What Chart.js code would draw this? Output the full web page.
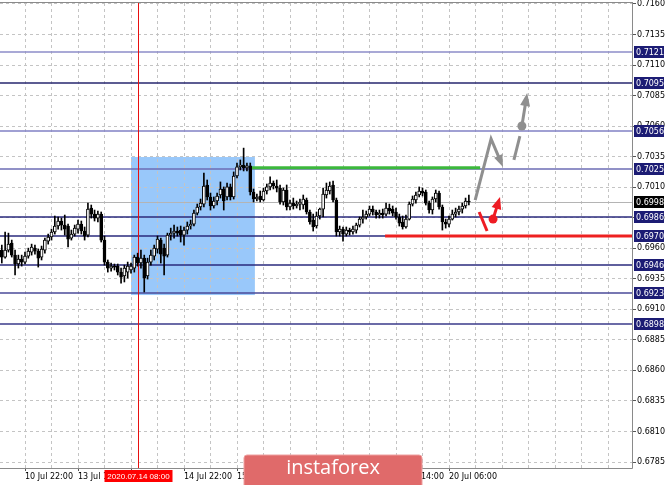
<!DOCTYPE html>
<html><head><meta charset="utf-8">
<script src="https://cdn.jsdelivr.net/npm/chart.js@4.4.1/dist/chart.umd.min.js"></script>
<style>html,body{margin:0;padding:0;background:#fff;overflow:hidden}canvas{display:block}</style>
</head><body>
<canvas id="c" width="665" height="485"></canvas>
<script>
// H1 candles, index = hours counted from 10 Jul 06:00 (weekend skipped); first visible candle index:
const firstIndex = 9;
const opens = [
0.69585,0.69528,0.69585,0.69642,0.69544,0.69471,0.69511,0.69487,0.69536,0.69569,
0.69601,0.69577,0.69528,0.69585,0.69659,0.69692,0.69733,0.69782,0.69823,0.69790,
0.69782,0.69683,0.69716,0.69757,0.69798,0.69741,0.69708,0.69929,0.69880,0.69847,
0.69880,0.69667,0.69487,0.69438,0.69454,0.69454,0.69405,0.69373,0.69405,0.69422,
0.69438,0.69528,0.69479,0.69519,0.69373,0.69487,0.69536,0.69593,0.69667,0.69601,
0.69544,0.69708,0.69724,0.69741,0.69749,0.69708,0.69749,0.69782,0.69798,0.69888,
0.69938,0.69962,0.70118,0.70020,0.69946,0.69987,0.70036,0.70085,0.70020,0.70102,
0.70020,0.70192,0.70266,0.70282,0.70257,0.70274,0.70061,0.70003,0.70028,0.69995,
0.70069,0.70102,0.70134,0.70110,0.70093,0.69979,0.70077,0.69938,0.69970,0.69946,
0.69962,0.69954,0.69995,0.69897,0.69831,0.69782,0.69864,0.69921,0.70036,0.70069,
0.70118,0.69995,0.69733,0.69757,0.69716,0.69749,0.69733,0.69749,0.69790,0.69839,
0.69856,0.69880,0.69921,0.69897,0.69872,0.69888,0.69880,0.69929,0.69921,0.69897,
0.69856,0.69815,0.69774,0.69839,0.69962,0.69995,0.70036,0.70069,0.70061,0.69970,
0.69913,0.70003,0.70052,0.69938,0.69815,0.69798,0.69839,0.69880,0.69897,0.69921,
0.69946,0.69987];
const highs = [
0.69626,0.69733,0.69724,0.69667,0.69585,0.69544,0.69544,0.69569,0.69601,0.69634,
0.69626,0.69593,0.69618,0.69683,0.69716,0.69757,0.69864,0.69856,0.69847,0.69872,
0.69798,0.69749,0.69790,0.69831,0.69823,0.69774,0.69970,0.69954,0.69913,0.69905,
0.69897,0.69700,0.69504,0.69479,0.69471,0.69471,0.69438,0.69462,0.69487,0.69479,
0.69544,0.69560,0.69585,0.69544,0.69519,0.69585,0.69626,0.69700,0.69683,0.69634,
0.69724,0.69765,0.69790,0.69774,0.69782,0.69774,0.69815,0.69831,0.69913,0.69962,
0.70003,0.70216,0.70159,0.70052,0.70020,0.70052,0.70143,0.70102,0.70134,0.70126,
0.70225,0.70298,0.70323,0.70420,0.70298,0.70298,0.70085,0.70044,0.70069,0.70093,
0.70126,0.70184,0.70151,0.70159,0.70118,0.70093,0.70118,0.69995,0.70011,0.69987,
0.70003,0.70036,0.70011,0.69913,0.69880,0.69897,0.69929,0.70093,0.70134,0.70143,
0.70151,0.70011,0.69782,0.69774,0.69774,0.69765,0.69782,0.69806,0.69856,0.69913,
0.69905,0.69946,0.69946,0.69913,0.69913,0.69921,0.69970,0.69962,0.69946,0.69929,
0.69880,0.69864,0.69872,0.69979,0.70028,0.70061,0.70102,0.70093,0.70077,0.69987,
0.70020,0.70077,0.70069,0.69954,0.69839,0.69864,0.69913,0.69929,0.69946,0.69970,
0.70011,0.70036];
const lows = [
0.69479,0.69519,0.69569,0.69528,0.69381,0.69438,0.69454,0.69471,0.69519,0.69544,
0.69552,0.69446,0.69504,0.69560,0.69634,0.69667,0.69716,0.69757,0.69749,0.69708,
0.69610,0.69667,0.69700,0.69724,0.69716,0.69667,0.69692,0.69847,0.69823,0.69815,
0.69651,0.69462,0.69405,0.69413,0.69422,0.69381,0.69315,0.69324,0.69356,0.69397,
0.69405,0.69454,0.69438,0.69242,0.69348,0.69462,0.69504,0.69560,0.69479,0.69381,
0.69528,0.69667,0.69683,0.69700,0.69651,0.69626,0.69716,0.69757,0.69782,0.69872,
0.69913,0.69938,0.69995,0.69913,0.69929,0.69954,0.70011,0.69913,0.69995,0.69995,
0.70003,0.70175,0.70241,0.70233,0.70233,0.70036,0.69979,0.69987,0.69979,0.69987,
0.70044,0.70077,0.70085,0.70061,0.69962,0.69954,0.69913,0.69913,0.69921,0.69929,
0.69913,0.69921,0.69880,0.69798,0.69741,0.69765,0.69839,0.69856,0.70011,0.70044,
0.69979,0.69700,0.69700,0.69659,0.69700,0.69708,0.69716,0.69724,0.69774,0.69806,
0.69839,0.69864,0.69872,0.69847,0.69847,0.69847,0.69864,0.69880,0.69864,0.69839,
0.69782,0.69757,0.69765,0.69831,0.69946,0.69970,0.70020,0.70028,0.69954,0.69888,
0.69880,0.69979,0.69921,0.69749,0.69765,0.69774,0.69831,0.69856,0.69872,0.69888,
0.69929,0.69954];
const closes = [
0.69528,0.69585,0.69634,0.69544,0.69471,0.69511,0.69487,0.69536,0.69577,0.69610,
0.69577,0.69519,0.69593,0.69667,0.69692,0.69733,0.69782,0.69823,0.69790,0.69757,
0.69675,0.69716,0.69765,0.69798,0.69741,0.69700,0.69921,0.69880,0.69847,0.69880,
0.69667,0.69487,0.69438,0.69454,0.69446,0.69405,0.69364,0.69438,0.69454,0.69454,
0.69528,0.69479,0.69519,0.69356,0.69487,0.69544,0.69601,0.69675,0.69552,0.69536,
0.69708,0.69724,0.69741,0.69724,0.69708,0.69749,0.69782,0.69798,0.69888,0.69938,
0.69970,0.70110,0.70020,0.69946,0.69987,0.70028,0.70085,0.69987,0.70102,0.70020,
0.70192,0.70266,0.70282,0.70257,0.70274,0.70061,0.70003,0.70020,0.69995,0.70069,
0.70102,0.70134,0.70110,0.70093,0.69979,0.70077,0.69938,0.69970,0.69946,0.69962,
0.69979,0.70003,0.69897,0.69815,0.69774,0.69864,0.69921,0.70044,0.70077,0.70110,
0.69995,0.69733,0.69757,0.69716,0.69749,0.69733,0.69757,0.69790,0.69839,0.69856,
0.69880,0.69921,0.69897,0.69872,0.69888,0.69872,0.69929,0.69905,0.69888,0.69856,
0.69806,0.69774,0.69839,0.69962,0.70003,0.70036,0.70069,0.70052,0.69970,0.69913,
0.70003,0.70052,0.69938,0.69815,0.69798,0.69839,0.69880,0.69897,0.69921,0.69946,
0.69987,0.69980];

const yTickValues = [0.7160,0.7135,0.7110,0.7085,0.7060,0.7035,0.7010,0.6985,0.6960,0.6935,0.6910,0.6885,0.6860,0.6835,0.6810,0.6785];
const xTickIndex  = [16,32,48,64,80,96,112,128,144];
const xTickLabels = ["10 Jul 22:00","13 Jul 14:00","14 Jul 06:00","14 Jul 22:00","15 Jul 14:00","16 Jul 06:00","16 Jul 22:00","17 Jul 14:00","20 Jul 06:00"];
const levelPrices = [0.7121,0.7095,0.7056,0.7025,0.6986,0.6970,0.6946,0.6923,0.6898];
const levelColors = ["#8c8cc8","#26266e","#8080c4","#6c6cb4","#2a2a7c","#2a2a7c","#2a2a7c","#4a4a98","#3a3a8a"];
const currentPrice = 0.6998;
const zoneIndex = [48.0, 85.4];
const zonePrices = [0.70347, 0.69217];
const greenLine = {from: 83.9, to: 153.4, price: 0.7026};
const redLine = {from: 124.7, price: 0.6970};
const markerIndex = 50;
const markerLabel = "2020.07.14 08:00";
const grayPath = [[151.9,0.69995],[156.7,0.70495],[160.3,0.70266]];
const grayDash = [[163.6,0.70323],[165.4,0.70519]];
const grayDot = [166.0,0.70601], grayTip = [167.6,0.70871];
const redDash = [[153.1,0.69897],[155.5,0.69741]];
const redDot = [157.3,0.69839], redTip = [159.4,0.70020];

const pxPerCandle = 3.3125;
const xMin = 28/pxPerCandle, xMax = xMin + 632/pxPerCandle;
const yMin = 0.67801, yMax = 0.71608;
const gridIdx = []; for (let v = 16; v <= 196; v += 8) gridIdx.push(v);

const xs = closes.map((_, i) => firstIndex + i);

function arrowHead(ctx, x0, y0, x1, y1, len, half, color) {
  const a = Math.atan2(y1 - y0, x1 - x0);
  ctx.fillStyle = color;
  ctx.beginPath();
  ctx.moveTo(x1, y1);
  ctx.lineTo(x1 - len*Math.cos(a) + half*Math.sin(a), y1 - len*Math.sin(a) - half*Math.cos(a));
  ctx.lineTo(x1 - len*Math.cos(a) - half*Math.sin(a), y1 - len*Math.sin(a) + half*Math.cos(a));
  ctx.closePath(); ctx.fill();
}
function shaft(ctx, x0, y0, x1, y1, len) {
  const a = Math.atan2(y1 - y0, x1 - x0);
  ctx.beginPath(); ctx.moveTo(x0, y0); ctx.lineTo(x1 - len*0.8*Math.cos(a), y1 - len*0.8*Math.sin(a)); ctx.stroke();
}

const overlay = {
  id: 'overlay',
  beforeDraw(chart) {
    const {ctx} = chart; const X = chart.scales.x, Y = chart.scales.y;
    ctx.save();
    ctx.fillStyle = '#fff'; ctx.fillRect(0, 0, chart.width, chart.height);
    const x0 = X.getPixelForValue(zoneIndex[0]), x1 = X.getPixelForValue(zoneIndex[1]);
    const y0 = Y.getPixelForValue(zonePrices[0]), y1 = Y.getPixelForValue(zonePrices[1]);
    ctx.fillStyle = '#99c8fa'; ctx.fillRect(x0, y0, x1 - x0, y1 - y0);
    ctx.restore();
  },
  beforeDatasetsDraw(chart) {
    const {ctx, chartArea: a} = chart; const X = chart.scales.x, Y = chart.scales.y;
    ctx.save();
    let y = Math.round(Y.getPixelForValue(currentPrice)) + 0.5;
    ctx.strokeStyle = '#b4b4b4'; ctx.lineWidth = 1;
    ctx.beginPath(); ctx.moveTo(a.left, y); ctx.lineTo(a.right, y); ctx.stroke();
    levelPrices.forEach((p, i) => {
      const yy = Math.round(Y.getPixelForValue(p));
      ctx.strokeStyle = levelColors[i]; ctx.lineWidth = 1.5;
      ctx.beginPath(); ctx.moveTo(a.left, yy); ctx.lineTo(a.right, yy); ctx.stroke();
    });
    const mx = Math.round(X.getPixelForValue(markerIndex)) + 0.5;
    ctx.strokeStyle = '#e81010'; ctx.lineWidth = 1;
    ctx.beginPath(); ctx.moveTo(mx, a.top); ctx.lineTo(mx, a.bottom); ctx.stroke();
    y = Y.getPixelForValue(greenLine.price);
    ctx.strokeStyle = '#3cb83c'; ctx.lineWidth = 3;
    ctx.beginPath(); ctx.moveTo(X.getPixelForValue(greenLine.from), y); ctx.lineTo(X.getPixelForValue(greenLine.to), y); ctx.stroke();
    y = Math.round(Y.getPixelForValue(redLine.price));
    ctx.strokeStyle = '#ee2020'; ctx.lineWidth = 3;
    ctx.beginPath(); ctx.moveTo(X.getPixelForValue(redLine.from), y); ctx.lineTo(a.right, y); ctx.stroke();
    ctx.restore();
  },
  afterDatasetsDraw(chart) {
    const {ctx} = chart; const X = chart.scales.x, Y = chart.scales.y;
    const P = q => [X.getPixelForValue(q[0]), Y.getPixelForValue(q[1])];
    ctx.save();
    ctx.lineCap = 'butt'; ctx.lineJoin = 'miter';
    const g = grayPath.map(P);
    ctx.strokeStyle = '#8f8f8f'; ctx.lineWidth = 3;
    ctx.beginPath(); ctx.moveTo(g[0][0], g[0][1]); ctx.lineTo(g[1][0], g[1][1]);
    const a2 = Math.atan2(g[2][1]-g[1][1], g[2][0]-g[1][0]);
    ctx.lineTo(g[2][0] - 8*Math.cos(a2), g[2][1] - 8*Math.sin(a2)); ctx.stroke();
    arrowHead(ctx, g[1][0], g[1][1], g[2][0], g[2][1], 12, 4.5, '#8f8f8f');
    const d = grayDash.map(P);
    ctx.beginPath(); ctx.moveTo(d[0][0], d[0][1]); ctx.lineTo(d[1][0], d[1][1]); ctx.stroke();
    const gd = P(grayDot), gt = P(grayTip);
    ctx.fillStyle = '#8f8f8f';
    ctx.beginPath(); ctx.arc(gd[0], gd[1], 4.5, 0, Math.PI*2); ctx.fill();
    shaft(ctx, gd[0], gd[1], gt[0], gt[1], 12);
    arrowHead(ctx, gd[0], gd[1], gt[0], gt[1], 13, 5, '#8f8f8f');
    const r = redDash.map(P);
    ctx.strokeStyle = '#ee1c24'; ctx.lineWidth = 3;
    ctx.beginPath(); ctx.moveTo(r[0][0], r[0][1]); ctx.lineTo(r[1][0], r[1][1]); ctx.stroke();
    const rd = P(redDot), rt = P(redTip);
    ctx.fillStyle = '#ee1c24';
    ctx.beginPath(); ctx.arc(rd[0], rd[1], 4.5, 0, Math.PI*2); ctx.fill();
    shaft(ctx, rd[0], rd[1], rt[0], rt[1], 11);
    arrowHead(ctx, rd[0], rd[1], rt[0], rt[1], 12, 5, '#ee1c24');
    ctx.restore();
  },
  afterDraw(chart) {
    const {ctx, chartArea: a} = chart; const X = chart.scales.x, Y = chart.scales.y;
    ctx.save();
    ctx.strokeStyle = '#8a8a8a'; ctx.lineWidth = 1;
    ctx.beginPath();
    ctx.moveTo(a.left, a.top - 0.5); ctx.lineTo(a.right + 0.5, a.top - 0.5);
    ctx.moveTo(a.right + 0.5, a.top - 1); ctx.lineTo(a.right + 0.5, a.bottom + 0.5);
    ctx.moveTo(a.left, a.bottom + 0.5); ctx.lineTo(a.right + 0.5, a.bottom + 0.5);
    ctx.stroke();
    ctx.font = '8px "DejaVu Sans"'; ctx.textBaseline = 'middle'; ctx.textAlign = 'left';
    const box = (p, fill) => {
      const y = Math.round(Y.getPixelForValue(p));
      ctx.fillStyle = fill; ctx.fillRect(a.right + 2, y - 6, 30, 12);
      ctx.fillStyle = '#fff'; ctx.fillText(p.toFixed(4), a.right + 4, y + 0.5);
    };
    levelPrices.forEach(p => box(p, '#1c1c74'));
    box(currentPrice, '#000');
    const mx = Math.round(X.getPixelForValue(markerIndex)) + 0.5;
    ctx.fillStyle = '#f00'; ctx.fillRect(mx - 34, a.bottom + 2, 68, 12);
    ctx.fillStyle = '#fff'; ctx.textAlign = 'center'; ctx.font = '8px "Liberation Sans"';
    ctx.fillText(markerLabel, mx, a.bottom + 8.5);
    ctx.fillStyle = '#e06a6a';
    ctx.beginPath(); ctx.roundRect(244, 455, 178, 40, 3); ctx.fill();
    ctx.strokeStyle = '#eea0a0'; ctx.lineWidth = 1; ctx.stroke();
    ctx.fillStyle = '#fff'; ctx.font = '20px "Open Sans"'; ctx.textAlign = 'center';
    ctx.fillText('instaforex', 333, 468);
    ctx.restore();
  }
};

new Chart(document.getElementById('c'), {
  type: 'bar',
  data: {
    datasets: [
      { data: xs.map((k, i) => ({x: k, y: [lows[i], highs[i]]})),
        backgroundColor: '#000', borderWidth: 0, barThickness: 1, grouped: false, order: 2 },
      { data: xs.map((k, i) => ({x: k, y: [opens[i], closes[i]]})),
        backgroundColor: xs.map((k, i) => closes[i] >= opens[i] ? '#fff' : '#000'),
        borderColor: '#000', borderWidth: 1, borderSkipped: false, barThickness: 3, grouped: false, order: 1 }
    ]
  },
  options: {
    responsive: false, animation: false, devicePixelRatio: 1, events: [],
    layout: {padding: {top: 3, left: 0, right: 0, bottom: 0}},
    plugins: {legend: {display: false}, tooltip: {enabled: false}},
    scales: {
      x: {
        type: 'linear', min: xMin, max: xMax, offset: false,
        grid: {offset: false, color: '#c4c4c4', lineWidth: 1, tickLength: 3,
               tickColor: c => xTickIndex.includes(c.tick && c.tick.value) ? '#555' : 'rgba(0,0,0,0)'},
        border: {display: false, dash: [3, 3]},
        afterBuildTicks: s => { s.ticks = gridIdx.map(v => ({value: v})); },
        afterFit: s => { s.height = 17; s.paddingLeft = 0; s.paddingRight = 0; },
        ticks: {autoSkip: false, maxRotation: 0, minRotation: 0, align: 'start', padding: 1, color: '#000',
                font: {family: 'DejaVu Sans', size: 8},
                callback: v => {
                  const i = xTickIndex.indexOf(v);
                  if (i < 0 || Math.abs(v - markerIndex) < 8) return '';
                  return xTickLabels[i];
                }}
      },
      y: {
        type: 'linear', position: 'right', min: yMin, max: yMax,
        grid: {color: '#c4c4c4', lineWidth: 1, tickLength: 4, tickColor: '#555'},
        border: {display: false, dash: [3, 3]},
        afterBuildTicks: s => { s.ticks = yTickValues.map(v => ({value: v})); },
        afterFit: s => { s.width = 33; s.paddingTop = 0; s.paddingBottom = 0; },
        ticks: {padding: 1, color: '#000', font: {family: 'DejaVu Sans', size: 8}, callback: v => v.toFixed(4)}
      }
    }
  },
  plugins: [overlay]
});
</script>
</body></html>
